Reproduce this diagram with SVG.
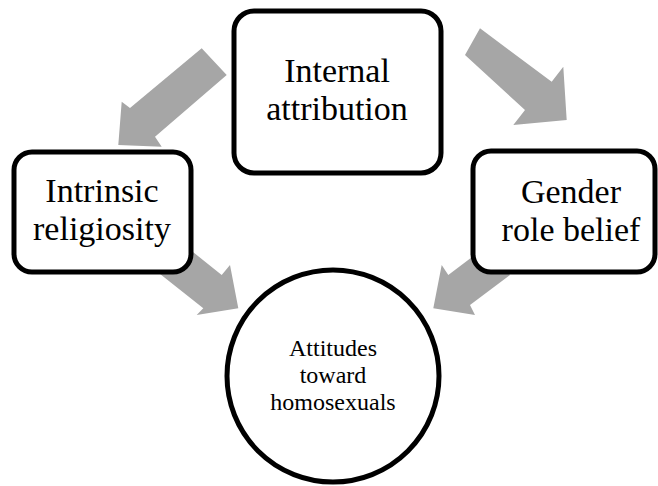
<svg xmlns="http://www.w3.org/2000/svg" width="658" height="486" viewBox="0 0 658 486">
<style>
.arrow{fill:#a6a6a6;stroke:none}
.box{fill:#fff;stroke:#000;stroke-width:5}
.big{font-family:"Liberation Serif","Times New Roman",serif;font-size:34px;fill:#000;text-anchor:middle}
.small{font-family:"Liberation Serif","Times New Roman",serif;font-size:24px;fill:#000;text-anchor:middle}
</style>
<rect width="658" height="486" fill="#fff"/>
<g id="connectors">
<polygon class="arrow" points="201.7,48.3 226.7,75 155,136.7 161.7,146.7 118.3,145 121.7,101.7 130,108"/>
<polygon class="arrow" points="480,28.3 465,55 525,110 513.3,125 566.7,120 563.3,66.7 551.7,81.7"/>
<polygon class="arrow" points="178,240 221.7,275 230,265 238.3,308.3 196.7,315 203.3,308.3 155,270"/>
<polygon class="arrow" points="488,245 510,275 470,305 475,315 433.3,308.3 441.7,265 448.3,275"/>
</g>
<g id="internal-attribution">
<rect class="box" x="234" y="11" width="207" height="162" rx="20"/>
<text class="big" x="337" y="82">Internal</text>
<text class="big" x="337" y="120">attribution</text>
</g>
<g id="intrinsic-religiosity">
<rect class="box" x="14" y="152" width="177" height="120" rx="18"/>
<text class="big" x="102" y="202">Intrinsic</text>
<text class="big" x="102" y="240">religiosity</text>
</g>
<g id="gender-role-belief">
<rect class="box" x="473" y="151" width="182" height="121" rx="18"/>
<text class="big" x="571" y="203">Gender</text>
<text class="big" x="571" y="241">role belief</text>
</g>
<g id="attitudes">
<circle class="box" cx="333" cy="376" r="106"/>
<text class="small" x="333" y="356">Attitudes</text>
<text class="small" x="333" y="383">toward</text>
<text class="small" x="333" y="410">homosexuals</text>
</g>
</svg>
